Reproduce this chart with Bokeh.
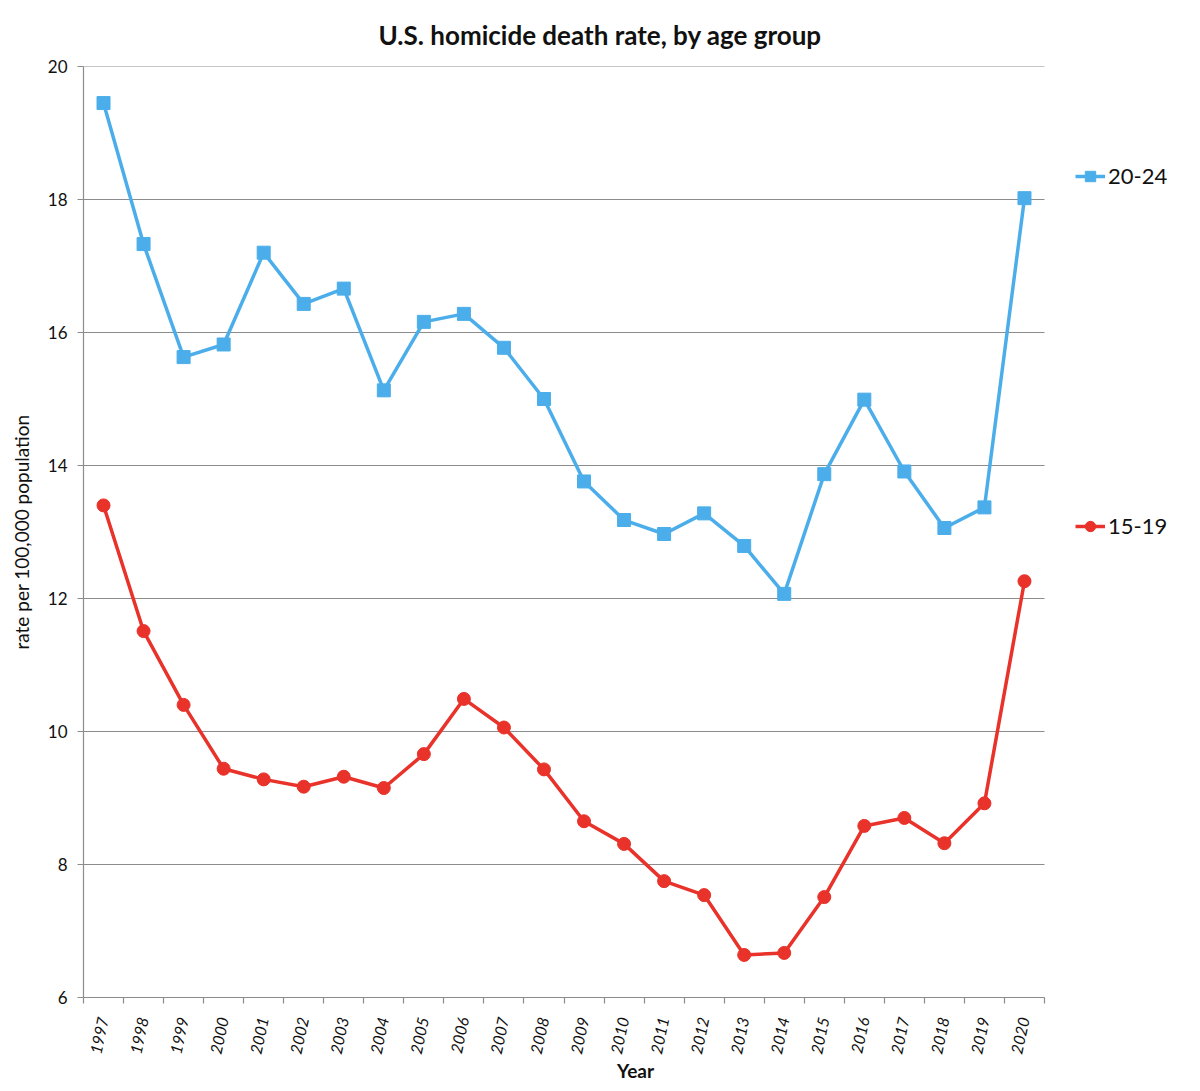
import math
from bokeh.plotting import figure
from bokeh.models import (FixedTicker, Range1d, Legend, LegendItem, Title)
from bokeh.embed import file_html
from bokeh.resources import INLINE

years = [str(y) for y in range(1997, 2021)]
rate_20_24 = [19.45, 17.33, 15.63, 15.82, 17.20, 16.43, 16.66, 15.13, 16.16, 16.28,
              15.77, 15.00, 13.76, 13.18, 12.97, 13.28, 12.79, 12.07, 13.87, 14.99,
              13.91, 13.06, 13.37, 18.02]
rate_15_19 = [13.40, 11.51, 10.40, 9.44, 9.28, 9.17, 9.32, 9.15, 9.66, 10.49,
              10.06, 9.43, 8.65, 8.31, 7.75, 7.54, 6.64, 6.67, 7.51, 8.58,
              8.70, 8.32, 8.92, 12.26]
y_ticks = [6, 8, 10, 12, 14, 16, 18, 20]

BLUE = "#4BAEEA"
RED = "#E8322A"
FONT = "Lato"
GRID = "#8c8c8c"

W, H = 1192, 1085
left, right, top, bottom = 83, 5, 66, 79
frame_w = W - left - right
px_per_unit = 961 / 24.0
x_end = -0.5 + frame_w / px_per_unit

xs = list(range(len(years)))

p = figure(width=W, height=H, output_backend="svg", toolbar_location=None,
           x_range=Range1d(-0.5, x_end), y_range=Range1d(6, 20),
           min_border_left=left, min_border_right=right,
           min_border_top=top, min_border_bottom=bottom)
p.outline_line_color = None
p.background_fill_color = "white"
p.border_fill_color = "white"

p.title = Title(text="U.S. homicide death rate, by age group", align="left",
                text_font=FONT, text_font_size="26px", text_font_style="bold",
                text_color="#111111", offset=295, standoff=32)

# grid lines drawn only over the category span
p.xgrid.visible = False
p.ygrid.visible = False
p.segment(x0=[-0.5] * len(y_ticks), x1=[len(years) - 0.5] * len(y_ticks),
          y0=y_ticks, y1=y_ticks, line_color=GRID, line_width=1.2)

# x axis
xa = p.xaxis[0]
xa.ticker = FixedTicker(ticks=xs, minor_ticks=[i - 0.5 for i in range(len(years) + 1)])
xa.major_label_overrides = {i: y for i, y in enumerate(years)}
xa.bounds = (-0.5, len(years) - 0.5)
xa.major_tick_line_color = None
xa.minor_tick_line_color = GRID
xa.minor_tick_out = 6
xa.minor_tick_in = 0
xa.minor_tick_line_width = 1.2
xa.axis_line_color = GRID
xa.axis_line_width = 1.2
xa.major_label_orientation = 1.36
xa.major_label_text_font = FONT
xa.major_label_text_font_style = "italic"
xa.major_label_text_font_size = "16px"
xa.major_label_text_color = "#111111"
xa.major_label_standoff = 14
xa.axis_label = "Year"
xa.axis_label_text_font = FONT
xa.axis_label_text_font_size = "19px"
xa.axis_label_text_font_style = "bold"
xa.axis_label_text_color = "#111111"
xa.axis_label_standoff = 0

ya = p.yaxis[0]
ya.ticker = FixedTicker(ticks=y_ticks, minor_ticks=[])
ya.major_tick_line_color = GRID
ya.major_tick_out = 6
ya.major_tick_in = 0
ya.major_tick_line_width = 1.2
ya.axis_line_color = GRID
ya.axis_line_width = 1.2
ya.major_label_text_font = FONT
ya.major_label_text_font_size = "17px"
ya.major_label_text_color = "#111111"
ya.major_label_standoff = 10
ya.axis_label = "rate per 100,000 population"
ya.axis_label_text_font = FONT
ya.axis_label_text_font_size = "19px"
ya.axis_label_text_font_style = "normal"
ya.axis_label_text_color = "#111111"
ya.axis_label_standoff = 12

l1 = p.line(xs, rate_20_24, line_color=BLUE, line_width=3.5)
s1 = p.scatter(xs, rate_20_24, marker="square", size=13, fill_color=BLUE, line_color=BLUE)
l2 = p.line(xs, rate_15_19, line_color=RED, line_width=3.5)
s2 = p.scatter(xs, rate_15_19, marker="circle", size=13, fill_color=RED, line_color=RED)

def make_legend(label, rends, y_center_page):
    leg = Legend(items=[LegendItem(label=label, renderers=rends)],
                 location=(1075 - 83, (1000 - y_center_page) - 14),
                 padding=0, margin=0, spacing=0,
                 glyph_width=30, glyph_height=26, label_standoff=3,
                 label_text_font=FONT, label_text_font_size="22px",
                 label_text_color="#111111", label_height=26,
                 border_line_color=None, background_fill_alpha=0)
    p.add_layout(leg)

make_legend("20-24", [l1, s1], 178)
make_legend("15-19", [l2, s2], 528)

open("out.html", "w").write(file_html(p, INLINE))
